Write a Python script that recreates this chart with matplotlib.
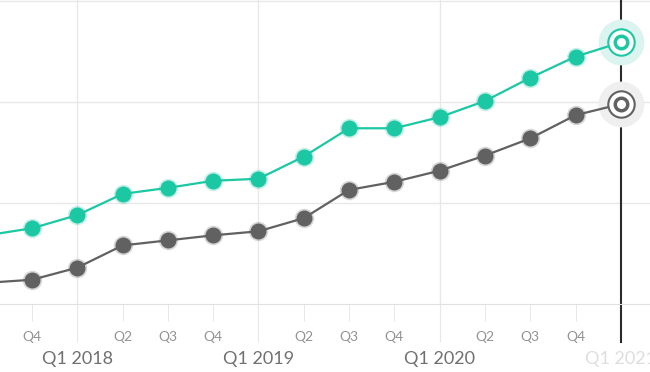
import matplotlib.pyplot as plt
import matplotlib.transforms as mtransforms

# quarters from Q3 2017 to Q1 2021
quarters = ['Q3', 'Q4', 'Q1', 'Q2', 'Q3', 'Q4', 'Q1', 'Q2', 'Q3', 'Q4',
            'Q1', 'Q2', 'Q3', 'Q4', 'Q1']
years = [2017, 2017, 2018, 2018, 2018, 2018, 2019, 2019, 2019, 2019,
         2020, 2020, 2020, 2020, 2021]
teal_values = [68, 75, 88, 109, 115, 122, 124, 146, 174, 174, 185, 201, 224, 245, 259]
gray_values = [21, 24, 36, 58, 63, 68, 72, 85, 113, 121, 132, 147, 164, 187, 198]

TEAL = '#1cc7a4'
GRAY = '#616161'

plt.rcParams['font.family'] = ['Lato', 'DejaVu Sans']

fig = plt.figure(figsize=(6.5, 3.72), dpi=100)
ax = fig.add_axes([0, 68 / 372, 1, 304 / 372])

x = list(range(len(quarters)))
last = x[-1]

# grid
for v in [100, 200, 300]:
    ax.axhline(v, color='#e8e8e8', lw=1, zorder=0)
for i, q in enumerate(quarters):
    if q == 'Q1' and i != last:
        ax.axvline(i, color='#e8e8e8', lw=1, zorder=0)

# series
for vals, col, halo in [(teal_values, TEAL, '#dcf4ef'), (gray_values, GRAY, '#efefef')]:
    ax.plot(x, vals, color=col, lw=1.6, zorder=3)
    ax.plot(x[:-1], vals[:-1], 'o', color=col, ms=14, alpha=0.25, mew=0, zorder=3)
    ax.plot(x[:-1], vals[:-1], 'o', color=col, ms=11.5, mew=0, zorder=4)
    ax.plot(x[-1], vals[-1], 'o', color=halo, ms=33, mew=0, zorder=2)
    ax.plot(x[-1], vals[-1], 'o', mfc='white', mec=col, ms=19, mew=1.5, zorder=5)
    ax.plot(x[-1], vals[-1], 'o', mfc='white', mec=col, ms=9, mew=2.5, zorder=6)

# current quarter line
trans = mtransforms.blended_transform_factory(ax.transData, ax.transAxes)
ax.plot([last, last], [-38 / 304, 1], color='#2b2b2b', lw=1.5, transform=trans,
        clip_on=False, zorder=1)

for s in ['top', 'left', 'right']:
    ax.spines[s].set_visible(False)
ax.spines['bottom'].set_color('#e0e0e0')
ax.set_yticks([])

major = [i for i, q in enumerate(quarters) if q == 'Q1']
minor = [i for i, q in enumerate(quarters) if q != 'Q1' and i > 0]
ax.set_xticks(major)
ax.set_xticklabels(['Q1 %d' % years[i] for i in major])
ax.set_xticks(minor, minor=True)
ax.set_xticklabels([quarters[i] for i in minor], minor=True)

ax.set_xlim(1 - 32 / 45.3, 1 + 618 / 45.3)
ax.set_ylim(0, 301)

ax.tick_params(axis='x', which='major', length=27.5, color='#e8e8e8', pad=6,
               labelsize=13, labelcolor='#707070')
ax.tick_params(axis='x', which='minor', length=12.5, color='#e4e4e4', pad=7,
               labelsize=10, labelcolor='#939393')

ax.xaxis.get_major_ticks()[-1].tick1line.set_visible(False)
ax.get_xticklabels()[-1].set_color('#dedede')

fig.savefig('out.png', dpi=100)
